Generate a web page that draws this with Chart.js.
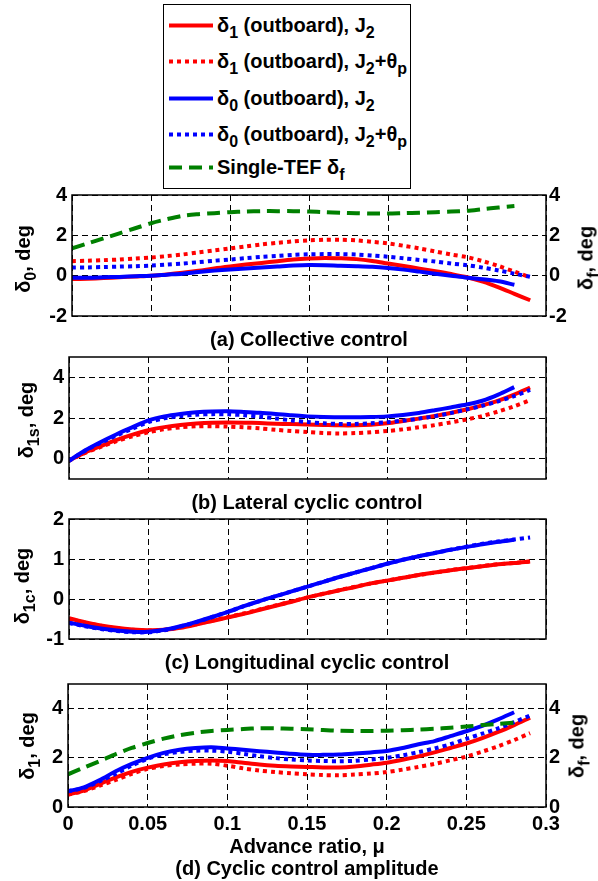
<!DOCTYPE html>
<html>
<head>
<meta charset="utf-8">
<script src="https://cdn.jsdelivr.net/npm/chart.js@4.4.0/dist/chart.umd.min.js"></script>
<style>
  body { margin: 0; background: #fff; width: 598px; height: 881px; position: relative; overflow: hidden;
         font-family: "Liberation Sans", Arial, Helvetica, sans-serif; font-weight: bold; color: #000; }
  canvas { position: absolute; left: 0; }
  .ylab { position: absolute; transform: translate(-50%, -50%) rotate(-90deg); white-space: nowrap; font-size: 20px; }
  .cap { position: absolute; transform: translate(-50%, -50%); white-space: nowrap; font-size: 20px; }
  sub { font-size: 0.8em; vertical-align: -0.4em; line-height: 0; }
  #legend { position: absolute; left: 163px; top: 4px; width: 248px; height: 185px; border: 1.5px solid #000;
            box-sizing: border-box; background: #fff; z-index: 2; }
  .row { position: absolute; left: 5px; display: flex; align-items: center; font-size: 20px; white-space: nowrap;
         transform: translateY(-50%); }
  .row svg { margin-right: 4px; }
</style>
</head>
<body>

<div id="legend"></div>

<script>
const mu = [0, 0.01, 0.02, 0.03, 0.04, 0.05, 0.06, 0.07, 0.08, 0.09,
            0.10, 0.11, 0.12, 0.13, 0.14, 0.15, 0.16, 0.17, 0.18, 0.19,
            0.20, 0.21, 0.22, 0.23, 0.24, 0.25, 0.26, 0.27, 0.28, 0.29];
const muTicks = [0, 0.05, 0.1, 0.15, 0.2, 0.25, 0.3];

// (a) collective
const collectiveD1   = [-0.17,-0.15,-0.12,-0.08,-0.04,0.00,0.06,0.14,0.24,0.36,0.46,0.55,0.63,0.72,0.80,0.85,0.88,0.86,0.82,0.73,0.60,0.48,0.35,0.22,0.08,-0.08,-0.30,-0.58,-0.90,-1.22];
const collectiveD1Tp = [0.72,0.74,0.77,0.80,0.85,0.90,0.97,1.05,1.15,1.25,1.35,1.45,1.55,1.63,1.70,1.75,1.78,1.78,1.75,1.68,1.60,1.48,1.35,1.20,1.05,0.92,0.72,0.48,0.20,-0.08];
const collectiveD0   = [-0.10,-0.10,-0.08,-0.06,-0.03,0.00,0.05,0.10,0.18,0.25,0.31,0.36,0.40,0.45,0.50,0.53,0.52,0.49,0.47,0.44,0.38,0.30,0.20,0.10,0.00,-0.10,-0.18,-0.28,-0.45,null];
const collectiveD0Tp = [0.40,0.41,0.43,0.45,0.47,0.50,0.55,0.60,0.67,0.74,0.80,0.87,0.93,0.98,1.03,1.06,1.07,1.07,1.05,1.00,0.94,0.86,0.78,0.70,0.60,0.52,0.40,0.26,0.10,-0.06];
const collectiveFlap = [1.35,1.60,1.85,2.10,2.35,2.60,2.80,2.97,3.05,3.10,3.15,3.18,3.20,3.20,3.20,3.18,3.15,3.12,3.10,3.08,3.08,3.10,3.12,3.15,3.18,3.22,3.30,3.38,3.45,null];
const collectiveTicks = [-2, 0, 2, 4];

// (b) lateral cyclic
const lateralD1   = [-0.10,0.30,0.62,0.92,1.18,1.40,1.55,1.66,1.73,1.77,1.78,1.77,1.75,1.72,1.70,1.68,1.66,1.64,1.64,1.67,1.74,1.85,1.97,2.10,2.25,2.42,2.62,2.85,3.15,3.50];
const lateralD1Tp = [-0.10,0.28,0.58,0.86,1.10,1.30,1.45,1.54,1.59,1.60,1.58,1.54,1.49,1.42,1.36,1.31,1.26,1.24,1.26,1.30,1.36,1.44,1.54,1.65,1.78,1.93,2.10,2.32,2.58,2.88];
const lateralD0   = [-0.10,0.40,0.82,1.20,1.55,1.88,2.08,2.20,2.28,2.32,2.33,2.30,2.26,2.20,2.13,2.08,2.05,2.04,2.04,2.05,2.08,2.15,2.25,2.38,2.52,2.66,2.85,3.15,3.52,null];
const lateralD0Tp = [-0.10,0.38,0.78,1.14,1.48,1.80,1.98,2.10,2.16,2.19,2.18,2.14,2.07,1.98,1.88,1.80,1.74,1.71,1.71,1.74,1.79,1.87,1.97,2.09,2.24,2.42,2.60,2.82,3.08,3.38];
const lateralTicks = [0, 2, 4];

// (c) longitudinal cyclic
const longD1   = [-0.48,-0.58,-0.66,-0.72,-0.76,-0.78,-0.77,-0.72,-0.64,-0.55,-0.46,-0.37,-0.27,-0.17,-0.07,0.04,0.13,0.22,0.30,0.39,0.46,0.53,0.60,0.66,0.72,0.77,0.82,0.87,0.90,0.94];
const longD1Tp = [-0.50,-0.59,-0.67,-0.73,-0.77,-0.79,-0.77,-0.71,-0.63,-0.54,-0.45,-0.36,-0.26,-0.16,-0.06,0.04,0.13,0.22,0.31,0.39,0.46,0.53,0.60,0.66,0.72,0.77,0.82,0.87,0.90,0.94];
const longD0   = [-0.59,-0.67,-0.74,-0.79,-0.82,-0.82,-0.77,-0.68,-0.57,-0.45,-0.32,-0.18,-0.05,0.07,0.19,0.31,0.43,0.55,0.66,0.77,0.88,0.98,1.07,1.15,1.23,1.30,1.37,1.43,1.48,null];
const longD0Tp = [-0.60,-0.68,-0.75,-0.80,-0.83,-0.83,-0.78,-0.69,-0.58,-0.45,-0.32,-0.18,-0.05,0.07,0.19,0.31,0.43,0.55,0.66,0.77,0.88,0.98,1.07,1.15,1.23,1.31,1.38,1.44,1.49,1.54];
const longTicks = [-1, 0, 1, 2];

// (d) cyclic amplitude
const ampD1   = [0.51,0.67,0.94,1.20,1.43,1.60,1.73,1.82,1.87,1.89,1.87,1.80,1.73,1.68,1.65,1.63,1.61,1.61,1.65,1.72,1.80,1.92,2.06,2.22,2.40,2.58,2.80,3.05,3.33,3.63];
const ampD1Tp = [0.51,0.65,0.87,1.10,1.35,1.55,1.67,1.73,1.76,1.76,1.68,1.57,1.48,1.42,1.37,1.33,1.30,1.29,1.32,1.36,1.42,1.52,1.63,1.75,1.90,2.05,2.25,2.47,2.72,3.00];
const ampD0   = [0.64,0.80,1.10,1.45,1.75,2.00,2.20,2.33,2.40,2.43,2.38,2.33,2.27,2.22,2.16,2.12,2.12,2.13,2.17,2.22,2.28,2.40,2.55,2.68,2.88,3.08,3.30,3.56,3.85,null];
const ampD0Tp = [0.64,0.78,1.05,1.35,1.68,1.96,2.14,2.24,2.29,2.29,2.25,2.16,2.07,1.99,1.93,1.89,1.87,1.86,1.88,1.93,2.00,2.10,2.23,2.38,2.55,2.77,2.98,3.20,3.45,3.72];
const ampFlap = [1.33,1.60,1.87,2.15,2.40,2.60,2.78,2.92,3.02,3.09,3.13,3.17,3.20,3.20,3.18,3.16,3.13,3.10,3.09,3.09,3.10,3.12,3.15,3.18,3.22,3.27,3.33,3.38,3.43,null];
const ampTicks = [0, 2, 4];

const PAGE_W = 598;
const FONT = { family: '"Liberation Sans", Arial, Helvetica, sans-serif', size: 20, weight: 'bold' };
const RED = '#ff0000', BLUE = '#0000ff', GREEN = '#008000';

const STYLES = {
  d1:   { color: RED,   dash: [] },
  d1tp: { color: RED,   dash: [4, 4] },
  d0:   { color: BLUE,  dash: [] },
  d0tp: { color: BLUE,  dash: [4, 4] },
  flap: { color: GREEN, dash: [13, 7] }
};

const LEGEND_ROWS = [
  { style: 'd1',   html: 'δ<sub>1</sub> (outboard), J<sub>2</sub>', y: 24 },
  { style: 'd1tp', html: 'δ<sub>1</sub> (outboard), J<sub>2</sub>+θ<sub>p</sub>', y: 60 },
  { style: 'd0',   html: 'δ<sub>0</sub> (outboard), J<sub>2</sub>', y: 97 },
  { style: 'd0tp', html: 'δ<sub>0</sub> (outboard), J<sub>2</sub>+θ<sub>p</sub>', y: 133 },
  { style: 'flap', html: 'Single-TEF δ<sub>f</sub>', y: 166 }
];

// plot box around the chart area, drawn over the curves like a matlab axes box
const frameBox = {
  id: 'frameBox',
  afterDatasetsDraw(chart) {
    const { ctx, chartArea: a } = chart;
    ctx.save();
    ctx.strokeStyle = '#000';
    ctx.lineWidth = 1.5;
    ctx.strokeRect(a.left, a.top, a.right - a.left, a.bottom - a.top);
    ctx.restore();
  }
};

function fmtMu(v) {
  return String(Math.round(v * 100) / 100);
}

function addText(cls, html, x, y) {
  const el = document.createElement('div');
  el.className = cls;
  el.innerHTML = html;
  el.style.left = x + 'px';
  el.style.top = y + 'px';
  document.body.appendChild(el);
}

function addPanel(box, yMin, yMax, yTicks, series, opt) {
  const padTop = 14;
  const below = opt.xLabels ? 36 : 14;
  const h = box.bottom - box.top + padTop + below;
  const canvas = document.createElement('canvas');
  canvas.width = PAGE_W;
  canvas.height = h;
  canvas.style.top = (box.top - padTop) + 'px';
  canvas.style.width = PAGE_W + 'px';
  canvas.style.height = h + 'px';
  document.body.appendChild(canvas);

  const datasets = series.map((s, i) => {
    const st = STYLES[s.style];
    return {
      label: s.style,
      data: mu.map((x, j) => ({ x: x, y: s.values[j] })),
      borderColor: st.color,
      borderDash: st.dash,
      borderWidth: 4,
      borderCapStyle: 'butt',
      pointRadius: 0,
      tension: 0.3,
      fill: false,
      clip: 0,
      yAxisID: s.style === 'flap' ? 'yR' : 'y',
      order: 10 - i
    };
  });

  const scales = {
    x: {
      type: 'linear', min: 0, max: 0.3,
      afterBuildTicks: sc => { sc.ticks = muTicks.map(v => ({ value: v })); },
      grid: { color: '#000', lineWidth: 1, drawTicks: false },
      border: { display: false, dash: [6, 4] },
      ticks: { display: !!opt.xLabels, color: '#000', font: FONT, padding: 5, maxRotation: 0, callback: v => fmtMu(v) },
      afterFit: sc => { sc.height = below; }
    },
    y: {
      position: 'left', min: yMin, max: yMax,
      afterBuildTicks: sc => { sc.ticks = yTicks.map(v => ({ value: v })); },
      grid: { color: '#000', lineWidth: 1, drawTicks: false },
      border: { display: false, dash: [6, 4] },
      ticks: { color: '#000', font: FONT, padding: 5 },
      afterFit: sc => { sc.width = box.left; }
    }
  };
  if (opt.rightAxis) {
    scales.yR = {
      position: 'right', min: yMin, max: yMax,
      afterBuildTicks: sc => { sc.ticks = yTicks.map(v => ({ value: v })); },
      grid: { display: false, drawTicks: false },
      border: { display: false },
      ticks: { color: '#000', font: FONT, padding: 3 },
      afterFit: sc => { sc.width = PAGE_W - box.right; }
    };
  }

  new Chart(canvas, {
    type: 'line',
    data: { datasets: datasets },
    options: {
      responsive: false,
      animation: false,
      devicePixelRatio: 1,
      layout: { padding: { top: padTop, bottom: 0, left: 0, right: opt.rightAxis ? 0 : PAGE_W - box.right } },
      plugins: { legend: { display: false }, tooltip: { enabled: false } },
      scales: scales
    },
    plugins: [frameBox]
  });
}

// legend
const legendEl = document.getElementById('legend');
LEGEND_ROWS.forEach(r => {
  const st = STYLES[r.style];
  const row = document.createElement('div');
  row.className = 'row';
  row.style.top = (r.y - 4) + 'px';
  row.innerHTML = `<svg width="44" height="6"><line x1="0" y1="3" x2="44" y2="3" stroke="${st.color}" stroke-width="4"
    stroke-dasharray="${st.dash.length ? st.dash.join(' ') : 'none'}"/></svg><span>${r.html}</span>`;
  legendEl.appendChild(row);
});

addPanel({ left: 72, right: 546, top: 192, bottom: 319 }, -2, 4, collectiveTicks, [
  { style: 'd1', values: collectiveD1 },
  { style: 'd1tp', values: collectiveD1Tp },
  { style: 'd0', values: collectiveD0 },
  { style: 'd0tp', values: collectiveD0Tp },
  { style: 'flap', values: collectiveFlap }
], { rightAxis: true });

addPanel({ left: 69, right: 546, top: 354, bottom: 482 }, -1, 5, lateralTicks, [
  { style: 'd1', values: lateralD1 },
  { style: 'd1tp', values: lateralD1Tp },
  { style: 'd0', values: lateralD0 },
  { style: 'd0tp', values: lateralD0Tp }
], {});

addPanel({ left: 69, right: 546, top: 516, bottom: 642 }, -1, 2, longTicks, [
  { style: 'd1', values: longD1 },
  { style: 'd1tp', values: longD1Tp },
  { style: 'd0', values: longD0 },
  { style: 'd0tp', values: longD0Tp }
], {});

addPanel({ left: 68, right: 546, top: 681, bottom: 807 }, 0, 5, ampTicks, [
  { style: 'd1', values: ampD1 },
  { style: 'd1tp', values: ampD1Tp },
  { style: 'd0', values: ampD0 },
  { style: 'd0tp', values: ampD0Tp },
  { style: 'flap', values: ampFlap }
], { rightAxis: true, xLabels: true });

// axis titles and panel captions
addText('ylab', 'δ<sub>0</sub>, deg', 23, 259);
addText('ylab', 'δ<sub>f</sub>, deg', 586, 258);
addText('ylab', 'δ<sub>1s</sub>, deg', 26, 420);
addText('ylab', 'δ<sub>1c</sub>, deg', 22, 586);
addText('ylab', 'δ<sub>1</sub>, deg', 27, 746);
addText('ylab', 'δ<sub>f</sub>, deg', 577, 746);

addText('cap', '(a) Collective control', 309, 339);
addText('cap', '(b) Lateral cyclic control', 307, 502);
addText('cap', '(c) Longitudinal cyclic control', 307, 662);
addText('cap', 'Advance ratio, μ', 307, 846);
addText('cap', '(d) Cyclic control amplitude', 307, 868);
</script>
</body>
</html>
